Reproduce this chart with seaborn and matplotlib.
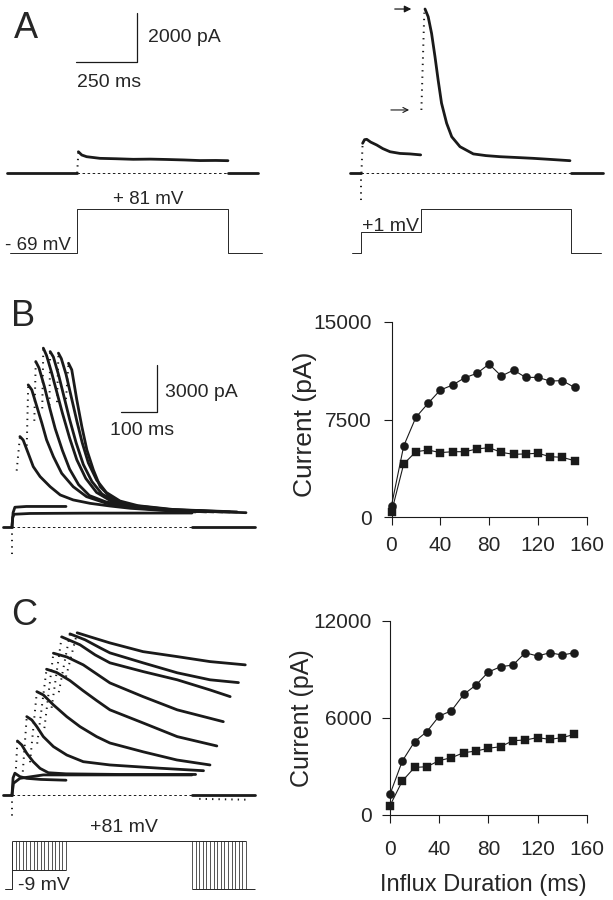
import matplotlib
matplotlib.use("Agg")
import matplotlib.pyplot as plt
import numpy as np
import pandas as pd
import seaborn as sns

sns.set_theme(style="ticks")
plt.rcParams['font.family'] = ['Liberation Sans', 'DejaVu Sans']

# ---------------- data (ms / pA / mV) ----------------
# panel A left: single pulse -69 -> +81 mV
A_LEFT_ON, A_LEFT_OFF, A_LEFT_END = 289, 910, 1034
A_LEFT_T = [294, 308, 328, 383, 450, 520, 590, 658, 730, 795, 860, 910]
A_LEFT_I = [880, 745, 675, 607, 590, 567, 575, 560, 540, 515, 520, 510]
A_LEFT_V_T = [12, 289, 910, 1049]
A_LEFT_V = [-69, 81, -69]

# panel A right: -69 -> +1 -> +81 mV
A_RIGHT_ON, A_RIGHT_STEP, A_RIGHT_OFF, A_RIGHT_END = 45, 294, 910, 1042
A_RIGHT_SPIKE = -1240
A_R1_T = [52, 60, 69, 85, 110, 135, 165, 206, 247, 291]
A_R1_I = [1230, 1380, 1395, 1280, 1160, 1010, 880, 810, 790, 750]
A_R2_FROM = 2610
A_R2_T = [309, 322, 336, 350, 363, 377, 398, 419, 453, 508, 560, 618, 690, 755, 830, 906]
A_R2_I = [6790, 6470, 5780, 4820, 3850, 2890, 2060, 1500, 1090, 790, 720, 675, 640, 607, 560, 510]
A_RIGHT_V_T = [8, 45, 294, 910, 1034]
A_RIGHT_V = [-69, 1, 81, -69]

# panel B traces
B_SPIKE = -1880
B_ZERO_T = [0, 2, 6, 50, 200, 500]
B_ZERO_I = [0, 600, 800, 850, 870, 880]
B_PRE_T = [0, 3, 8, 40, 150]
B_PRE_I = [0, 900, 1250, 1300, 1300]
B_STEP = [13, 41, 62, 84, 104, 125, 150]
B_RISE_FROM = [3600, 5200, 6800, 7600, 7800, 8000, 8200]
B_DECAY_T = [
    [22, 31, 45, 59, 78, 106, 134, 170, 217, 272, 330, 450, 510],
    [45, 55, 69, 83, 96, 115, 138, 170, 207, 263, 319, 400, 540],
    [66, 75, 90, 105, 120, 140, 160, 185, 215, 260, 320, 420, 560],
    [87, 96, 110, 125, 140, 160, 180, 205, 235, 275, 330, 430, 585],
    [106, 115, 130, 145, 160, 178, 198, 222, 250, 290, 340, 440, 605],
    [129, 137, 150, 165, 180, 195, 212, 235, 262, 300, 350, 450, 625],
    [157, 166, 180, 194, 208, 226, 245, 272, 309, 356, 450, 650],
]
B_DECAY_I = [
    [5790, 5570, 4720, 3860, 3220, 2570, 2040, 1720, 1500, 1330, 1180, 1000, 950],
    [9110, 8790, 7720, 6650, 5580, 4500, 3430, 2570, 1930, 1500, 1290, 1100, 950],
    [10610, 10200, 9000, 7600, 6300, 4900, 3700, 2700, 2000, 1600, 1300, 1100, 950],
    [11470, 11000, 9900, 8600, 7300, 5700, 4300, 3100, 2200, 1650, 1350, 1100, 950],
    [11250, 10900, 9700, 8300, 6900, 5400, 4000, 2900, 2100, 1600, 1350, 1100, 950],
    [11150, 10800, 9800, 8300, 6800, 5400, 4100, 3000, 2200, 1650, 1350, 1100, 950],
    [10500, 10080, 8150, 6430, 4930, 3650, 2570, 1930, 1500, 1180, 1050, 900],
]

# panel C traces
C_SPIKE = -1600
C_ZERO_T = [0, 4, 22, 87, 300, 500]
C_ZERO_I = [0, 750, 1070, 1290, 1290, 1290]
C_PRE_T = [0, 3, 8, 22, 41, 80, 150]
C_PRE_I = [0, 1100, 1400, 1180, 1070, 1000, 950]
C_STEP = [10, 30, 50, 70, 90, 110, 130, 150]
C_RISE_FROM = [1300, 1500, 2100, 3300, 4300, 5600, 6600, 7600]
C_DECAY_T = [
    [15, 27, 41, 59, 78, 101, 150, 300, 510],
    [41, 55, 69, 87, 115, 152, 198, 272, 411, 532],
    [69, 87, 115, 152, 189, 235, 272, 365, 458, 550],
    [96, 124, 161, 197, 235, 272, 364, 459, 569],
    [115, 152, 198, 235, 272, 364, 459, 587],
    [138, 189, 231, 272, 364, 459, 550, 606],
    [161, 203, 245, 272, 364, 459, 550, 629],
    [181, 217, 272, 364, 459, 550, 648],
]
C_DECAY_I = [
    [3470, 3215, 2680, 2140, 1710, 1430, 1360, 1320, 1320],
    [5035, 4820, 4390, 3750, 3110, 2570, 2140, 1930, 1720, 1560],
    [6640, 6430, 5790, 5035, 4390, 3750, 3340, 2770, 2250, 1930],
    [8080, 7870, 7350, 6710, 6070, 5470, 4630, 3750, 3150],
    [9110, 8870, 8360, 7780, 7200, 6320, 5470, 4710],
    [10160, 9650, 9000, 8490, 7930, 7400, 6750, 6320],
    [10350, 9970, 9450, 9130, 8490, 7850, 7400, 7220],
    [10420, 10160, 9770, 9210, 8890, 8570, 8360],
]
C_TAIL_T = [520, 650]
C_TAIL_I = [-250, -300]
C_HOLD, C_PREV, C_TESTV = -69, -9, 81
C_PULSE = 500
C_V_START, C_V_END = -19, 675

# graphs
DUR = [0, 10, 20, 30, 40, 50, 60, 70, 80, 90, 100, 110, 120, 130, 140, 150]
B_CIRCLE = [900, 5470, 7670, 8740, 9760, 10140, 10700, 11040, 11750, 10830,
            11290, 10730, 10730, 10450, 10480, 9960]
B_SQUARE = [400, 4090, 5030, 5160, 4960, 5030, 5030, 5240, 5340, 4980,
            4830, 4860, 4910, 4650, 4600, 4340]
C_CIRCLE = [1280, 3330, 4530, 5150, 6110, 6440, 7450, 8030, 8830, 9160,
            9260, 10020, 9820, 10020, 9880, 10020]
C_SQUARE = [580, 2100, 2940, 2980, 3360, 3540, 3850, 3950, 4120, 4220,
            4590, 4630, 4780, 4670, 4780, 4980]

# ---------------- figure ----------------
W, H = 613, 900
fig = plt.figure(figsize=(W / 100, H / 100), dpi=100)
fig.patch.set_facecolor("white")

TRACE = dict(color="k", lw=2.0, solid_joinstyle="round", solid_capstyle="round")
DOTS = dict(color="k", lw=1.4, linestyle=(0, (0.7, 2.6)))
DASH = dict(color="k", lw=0.7, linestyle=(0, (2.6, 2.6)))
VOLT = dict(color="0.15", lw=0.7)


def px_axes(x0, y0, x1, y1):
    return fig.add_axes([x0 / W, 1 - y1 / H, (x1 - x0) / W, (y1 - y0) / H])


def trace_axes(x0, y0, x1, y1, px_t0, ms_px, py_zero, per_px, zero_val=0.0):
    ax = px_axes(x0, y0, x1, y1)
    ax.set_xlim((x0 - px_t0) * ms_px, (x1 - px_t0) * ms_px)
    ax.set_ylim(zero_val + (py_zero - y1) * per_px, zero_val + (py_zero - y0) * per_px)
    ax.set_axis_off()
    return ax


def label(x, y, s, size=14, **kw):
    kw.setdefault("ha", "left")
    kw.setdefault("va", "baseline")
    fig.text(x / W, 1 - y / H, s, fontsize=size, **kw)


MS_A, PA_A, MV_A = 250 / 60.7, 2000 / 48.3, 150 / 43.7
MS_BC, PA_BC = 100 / 36.0, 3000 / 46.7

# ---- panel A left
ax = trace_axes(0, 0, 300, 270, 7, MS_A, 173, PA_A)
ax.plot([0, A_LEFT_ON], [0, 0], **TRACE)
ax.plot([A_LEFT_ON, A_LEFT_T[0]], [0, A_LEFT_I[0]], **DOTS)
ax.plot(A_LEFT_T, A_LEFT_I, **TRACE)
ax.plot([A_LEFT_OFF, A_LEFT_END], [0, 0], **TRACE)
ax.plot([A_LEFT_ON, A_LEFT_OFF], [0, 0], **DASH)
# scale bar 250 ms / 2000 pA
sx, sy = (76 - 7) * MS_A, (173 - 61.7) * PA_A
ax.plot([sx, sx + 250, sx + 250], [sy, sy, sy + 2000], color="k", lw=0.9)

axv = trace_axes(0, 0, 300, 270, 7, MS_A, 252.7, MV_A, -69)
axv.step(A_LEFT_V_T, A_LEFT_V + [A_LEFT_V[-1]], where="post", **VOLT)

# ---- panel A right
ax = trace_axes(300, 0, 613, 270, 350, MS_A, 173, PA_A)
ax.plot([0, A_RIGHT_ON], [0, 0], **TRACE)
ax.plot([A_RIGHT_ON, A_RIGHT_ON], [0, A_RIGHT_SPIKE], **DOTS)
ax.plot([A_RIGHT_ON + 2, A_R1_T[0]], [0, A_R1_I[0]], **DOTS)
ax.plot(A_R1_T, A_R1_I, **TRACE)
ax.plot([A_RIGHT_STEP, A_R2_T[0] - 3], [A_R2_FROM, A_R2_I[0] - 150], **DOTS)
ax.plot(A_R2_T, A_R2_I, **TRACE)
ax.plot([A_RIGHT_OFF, A_RIGHT_END], [0, 0], **TRACE)
ax.plot([A_RIGHT_ON, A_RIGHT_OFF], [0, 0], **DASH)
top = max(A_R2_I)
ax.annotate("", xy=(264, top), xytext=(173, top),
            arrowprops=dict(arrowstyle="-|>", color="k", lw=0.9, mutation_scale=10))
ax.annotate("", xy=(255, A_R2_FROM), xytext=(157, A_R2_FROM),
            arrowprops=dict(arrowstyle="->", color="k", lw=0.8, mutation_scale=9))

axv = trace_axes(300, 0, 613, 270, 350, MS_A, 252.7, MV_A, -69)
axv.step(A_RIGHT_V_T, A_RIGHT_V + [A_RIGHT_V[-1]], where="post", **VOLT)

label(14, 38, "A", size=26)
label(148, 41.5, "2000 pA")
label(77, 87, "250 ms")
label(113, 204, "+ 81 mV", size=13.5)
label(5, 250, "- 69 mV", size=13.5)
label(362, 231, "+1 mV")

# ---- panel B traces
ax = trace_axes(0, 330, 270, 570, 12, MS_BC, 526.7, PA_BC)
ax.plot([-25, 0], [0, 0], **TRACE)
ax.plot([0, 0], [0, B_SPIKE], **DOTS)
ax.plot([0, C_PULSE], [0, 0], **DASH)
ax.plot([C_PULSE, 675], [0, 0], **TRACE)
ax.plot(B_ZERO_T, B_ZERO_I, **TRACE)
ax.plot(B_PRE_T, B_PRE_I, **TRACE)
for ts, i0, tt, ii in zip(B_STEP, B_RISE_FROM, B_DECAY_T, B_DECAY_I):
    ax.plot([ts, tt[0]], [i0, ii[0]], **DOTS)
    ax.plot(tt, ii, **TRACE)
sx, sy = (156.7 - 12) * MS_BC, (526.7 - 411.7) * PA_BC
ax.plot([sx - 100, sx, sx], [sy, sy, sy + 3000], color="k", lw=0.9)

label(11, 326.5, "B", size=26)
label(165, 396.5, "3000 pA")
label(110, 435, "100 ms")

# ---- panel C traces
ax = trace_axes(0, 615, 270, 832, 12, MS_BC, 795, PA_BC)
ax.plot([-25, 0], [0, 0], **TRACE)
ax.plot([0, 0], [0, C_SPIKE], **DOTS)
ax.plot([0, C_PULSE], [0, 0], **DASH)
ax.plot([C_PULSE, 675], [0, 0], **TRACE)
ax.plot(C_TAIL_T, C_TAIL_I, **DOTS)
ax.plot(C_PRE_T, C_PRE_I, **TRACE)
ax.plot(C_ZERO_T, C_ZERO_I, **TRACE)
for ts, i0, tt, ii in zip(C_STEP, C_RISE_FROM, C_DECAY_T, C_DECAY_I):
    ax.plot([ts, tt[0]], [i0, ii[0]], **DOTS)
    ax.plot(tt, ii, **TRACE)

axv = trace_axes(0, 832, 270, 900, 12, MS_BC, 889, 150 / 48.3, -69)
dur = np.array(DUR)
axv.plot([C_V_START, 0], [C_HOLD, C_HOLD], **VOLT)
axv.vlines(0, C_HOLD, C_TESTV, **VOLT)
axv.hlines(C_PREV, 0, dur[-1], **VOLT)
axv.vlines(dur[1:], C_PREV, C_TESTV, color="0.15", lw=0.55)
axv.hlines(C_TESTV, 0, dur[-1] + C_PULSE, **VOLT)
axv.vlines(dur + C_PULSE, C_HOLD, C_TESTV, color="0.15", lw=0.55)
axv.hlines(C_HOLD, C_PULSE, C_V_END, **VOLT)

label(11, 625, "C", size=26)
label(90, 831.7, "+81 mV")
label(18, 890, "-9 mV")


# ---- graphs
def graph(box, circ, sq, ymax, yticks, xpad, ypad):
    ax = px_axes(*box)
    df = pd.DataFrame({"dur": DUR, "circle": circ, "square": sq})
    sns.lineplot(data=df, x="dur", y="circle", ax=ax, color="k", lw=0.8,
                 marker="o", markersize=5.9, mec="k", mew=0.3, clip_on=False, zorder=3)
    sns.lineplot(data=df, x="dur", y="square", ax=ax, color="k", lw=0.8,
                 marker="s", markersize=5.2, mec="k", mew=0.3, clip_on=False, zorder=3)
    ax.set(xlim=(0, 160), ylim=(0, ymax), xticks=[0, 40, 80, 120, 160],
           yticks=yticks, xlabel="", ylabel="")
    ax.set_yticklabels([str(v) for v in yticks])
    sns.despine(ax=ax)
    for s in ("left", "bottom"):
        ax.spines[s].set_linewidth(0.8)
        ax.spines[s].set_color("k")
    ax.tick_params(axis="x", direction="out", length=5.8, width=0.8, color="k",
                   labelsize=15, pad=xpad)
    ax.tick_params(axis="y", direction="out", length=5.8, width=0.8, color="k",
                   labelsize=15, pad=ypad)
    ax.patch.set_alpha(0)
    return ax


graph((391.5, 321.7, 586.7, 517.3), B_CIRCLE, B_SQUARE, 15000, [0, 7500, 15000], 7.5, 8.4)
fig.text(305 / W, 1 - 424 / H, "Current (pA)", rotation=90, ha="center", va="center", fontsize=19)

graph((390, 620.7, 586.7, 815), C_CIRCLE, C_SQUARE, 12000, [0, 6000, 12000], 12, 7.2)
fig.text(301.7 / W, 1 - 718.5 / H, "Current (pA)", rotation=90, ha="center", va="center", fontsize=18)
label(380, 890.7, "Influx Duration (ms)", size=17)

fig.savefig("out.png", dpi=100, facecolor="white")
